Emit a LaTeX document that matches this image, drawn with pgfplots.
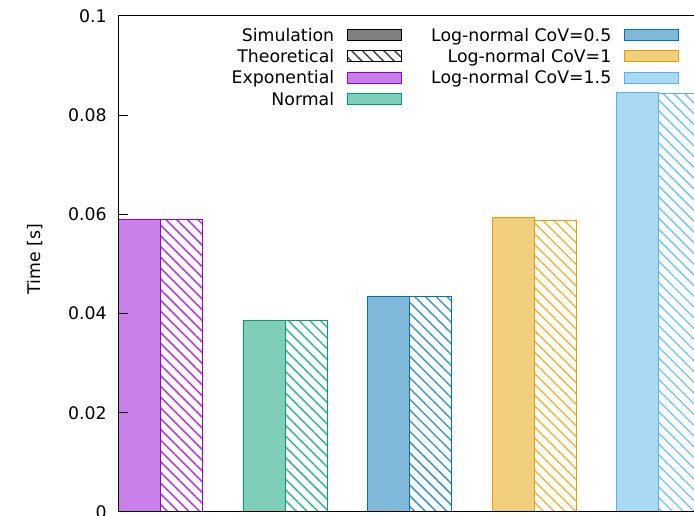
\documentclass[border=0pt]{standalone}
\usepackage{pgfplots}
\pgfplotsset{compat=1.18}
\usetikzlibrary{patterns.meta}
\usepackage{fontspec}
\setmainfont{DejaVu Sans}
\definecolor{cExp}{HTML}{9400D3}\definecolor{cExpF}{HTML}{C97FE9}
\definecolor{cNor}{HTML}{009E73}\definecolor{cNorF}{HTML}{7FCEB9}
\definecolor{cLa}{HTML}{0072B2}\definecolor{cLaF}{HTML}{7FB8D8}
\definecolor{cLb}{HTML}{E69F00}\definecolor{cLbF}{HTML}{F2CF7F}
\definecolor{cLc}{HTML}{56B4E9}\definecolor{cLcF}{HTML}{AAD9F4}
\newcommand{\fs}{\fontsize{13}{15.6}\selectfont}
\tikzset{hatch/.style={pattern={Lines[angle=-45,distance=5.7pt,line width=1.15pt]},pattern color=#1!75}}
\begin{document}
\begin{tikzpicture}
\begin{axis}[
  at={(0,0)}, anchor=south west, scale only axis,
  width=465pt, height=372pt,
  xmin=-0.3373, xmax=4.6426, ymin=0, ymax=0.1,
  axis on top,
  xtick=\empty,
  ytick={0,0.02,0.04,0.06,0.08,0.1},
  yticklabels={0,0.02,0.04,0.06,0.08,0.1},
  scaled y ticks=false,
  /pgf/number format/assume math mode=true,
  ytick pos=left,
  tick align=inside, major tick length=6.75pt,
  ytick style={line width=0.75pt, black},
  axis line style={line width=0.75pt, black},
  yticklabel style={font=\fs, inner sep=0pt, xshift=-9pt},
  ylabel={Time [s]},
  ylabel style={font=\fs, at={(axis description cs:-0.1355,0.51)}, anchor=center, rotate=0},
  legend image code/.code={\draw[#1, line width=0.75pt] (0pt,-4.125pt) rectangle (40.5pt,4.125pt);},
  legend cell align=right, legend plot pos=right,
  transpose legend, legend columns=4,
  legend style={draw=none, fill=none, inner sep=0pt, outer sep=0pt,
    at={(0.9037,0.97782)}, anchor=north east, font=\fs,
    row sep=4pt, column sep=9.75pt,
    /tikz/every even column/.append style={column sep=21.75pt},
    nodes={inner sep=0pt, text height=10.7pt, text depth=1.3pt}},
]
% Exponential
\addplot[ybar, bar width=0.3373, bar shift=0pt, fill=cExpF, draw=cExp, line width=0.75pt, forget plot] coordinates {(-0.16867,0.0589)};
\addplot[ybar, bar width=0.3373, bar shift=0pt, hatch=cExp, draw=cExp, line width=0.75pt, forget plot] coordinates {(0.16867,0.0589)};
% Normal
\addplot[ybar, bar width=0.3373, bar shift=0pt, fill=cNorF, draw=cNor, line width=0.75pt, forget plot] coordinates {(0.83133,0.0387)};
\addplot[ybar, bar width=0.3373, bar shift=0pt, hatch=cNor, draw=cNor, line width=0.75pt, forget plot] coordinates {(1.16867,0.0387)};
% Log-normal CoV=0.5
\addplot[ybar, bar width=0.3373, bar shift=0pt, fill=cLaF, draw=cLa, line width=0.75pt, forget plot] coordinates {(1.83133,0.0435)};
\addplot[ybar, bar width=0.3373, bar shift=0pt, hatch=cLa, draw=cLa, line width=0.75pt, forget plot] coordinates {(2.16867,0.0435)};
% Log-normal CoV=1
\addplot[ybar, bar width=0.3373, bar shift=0pt, fill=cLbF, draw=cLb, line width=0.75pt, forget plot] coordinates {(2.83133,0.0593)};
\addplot[ybar, bar width=0.3373, bar shift=0pt, hatch=cLb, draw=cLb, line width=0.75pt, forget plot] coordinates {(3.16867,0.0587)};
% Log-normal CoV=1.5
\addplot[ybar, bar width=0.3373, bar shift=0pt, fill=cLcF, draw=cLc, line width=0.75pt, forget plot] coordinates {(3.83133,0.0845)};
\addplot[ybar, bar width=0.3373, bar shift=0pt, hatch=cLc, draw=cLc, line width=0.75pt, forget plot] coordinates {(4.16867,0.0844)};
\addlegendimage{fill=black!50, draw=black}
\addlegendentry{Simulation}
\addlegendimage{hatch=black, draw=black}
\addlegendentry{Theoretical}
\addlegendimage{fill=cExpF, draw=cExp}
\addlegendentry{Exponential}
\addlegendimage{fill=cNorF, draw=cNor}
\addlegendentry{Normal}
\addlegendimage{fill=cLaF, draw=cLa}
\addlegendentry{Log-normal CoV=0.5}
\addlegendimage{fill=cLbF, draw=cLb}
\addlegendentry{Log-normal CoV=1}
\addlegendimage{fill=cLcF, draw=cLc}
\addlegendentry{Log-normal CoV=1.5}
\end{axis}
\pgfresetboundingbox
\useasboundingbox (-89.25pt,-3pt) rectangle (431.25pt,384pt);
\end{tikzpicture}
\end{document}
